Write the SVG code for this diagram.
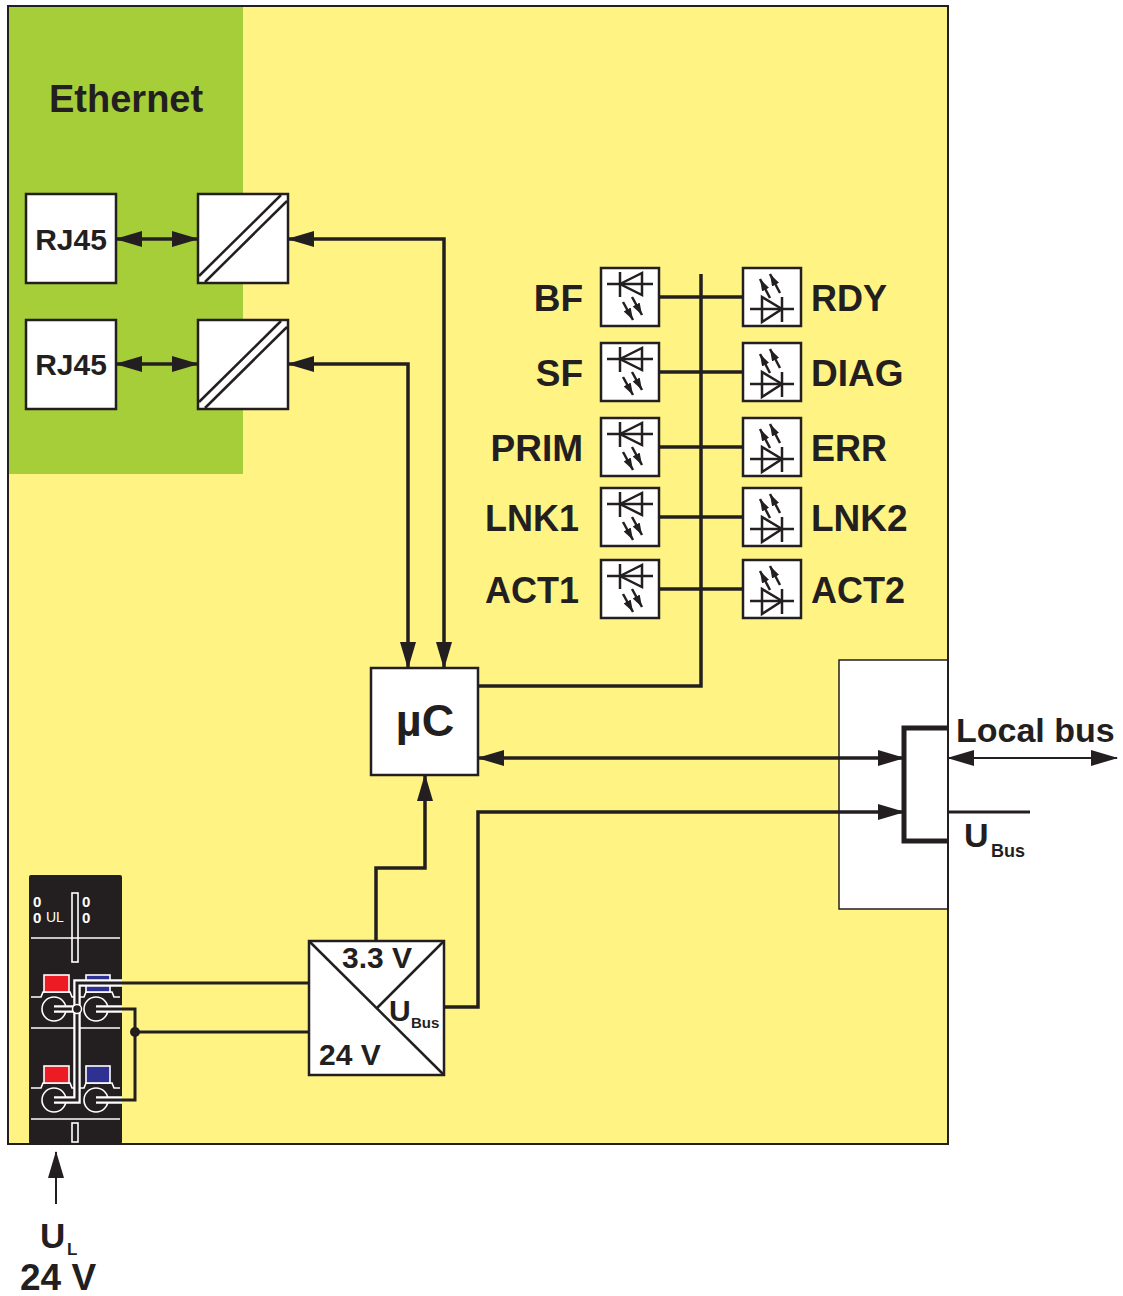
<svg xmlns="http://www.w3.org/2000/svg" width="1123" height="1296" viewBox="0 0 1123 1296">
<style>
.t{font-family:"Liberation Sans",Arial,sans-serif;font-weight:bold;fill:#231f20}
.ln{fill:none;stroke:#231f20;stroke-width:3.5;stroke-linejoin:miter}
.thin{fill:none;stroke:#231f20;stroke-width:2}
.box{fill:#fff;stroke:#231f20;stroke-width:2.5}
.led{fill:none;stroke:#231f20;stroke-width:2.5}
.wcase{fill:none;stroke:#fff;stroke-width:7.5;stroke-linejoin:miter}
.wire{fill:none;stroke:#231f20;stroke-width:3;stroke-linejoin:miter}
.wl{fill:none;stroke:#fff;stroke-width:1.6}
.ws{stroke:#fff;stroke-width:1.6}
.red{fill:#ed1c24}
.blue{fill:#2e3192}
.dk{fill:#231f20}
.tw{font-family:"Liberation Sans",Arial,sans-serif;font-size:14px;fill:#fff}
.tb{font-family:"Liberation Sans",Arial,sans-serif;font-size:15px;font-weight:bold;fill:#fff}
</style>
<defs>
<marker id="ah" viewBox="0 0 27 16" refX="26" refY="8" markerWidth="27" markerHeight="16" markerUnits="userSpaceOnUse" orient="auto-start-reverse"><path d="M0,0 L27,8 L0,16 z" fill="#231f20"/></marker>
<marker id="ahs" viewBox="0 0 12 8" refX="12" refY="4" markerWidth="12" markerHeight="8" markerUnits="userSpaceOnUse" orient="auto"><path d="M0,0 L12,4 L0,8 z" fill="#231f20"/></marker>
<g id="ledL">
<rect class="box" x="0" y="0" width="58" height="58"/>
<line class="led" x1="6" y1="16" x2="52" y2="16"/>
<line class="led" x1="19" y1="4" x2="19" y2="29"/>
<path class="led" d="M19,16 L41,5 L41,27 Z"/>
<line class="led" x1="22" y1="34" x2="32" y2="52" marker-end="url(#ahs)"/>
<line class="led" x1="31" y1="29" x2="41" y2="47" marker-end="url(#ahs)"/>
</g>
<g id="ledR">
<rect class="box" x="0" y="0" width="58" height="58"/>
<line class="led" x1="7" y1="41" x2="51" y2="41"/>
<line class="led" x1="39" y1="29" x2="39" y2="54"/>
<path class="led" d="M39,41 L19,29 L19,54 Z"/>
<line class="led" x1="27" y1="30" x2="17" y2="11" marker-end="url(#ahs)"/>
<line class="led" x1="37" y1="25" x2="27" y2="6" marker-end="url(#ahs)"/>
</g>
</defs>

<g id="background">
<rect x="0" y="0" width="1123" height="1296" fill="#fff"/>
<rect x="8" y="6" width="940" height="1138" fill="#fff383" stroke="#231f20" stroke-width="2"/>
<rect x="9" y="7" width="234" height="467" fill="#a6ce39"/>
<text class="t" x="49" y="112" font-size="38">Ethernet</text>
</g>

<g id="rj45-1">
<rect class="box" x="26" y="194" width="90" height="89"/>
<text class="t" x="71" y="250" font-size="30" text-anchor="middle">RJ45</text>
</g>
<g id="rj45-2">
<rect class="box" x="26" y="320" width="90" height="89"/>
<text class="t" x="71" y="375" font-size="30" text-anchor="middle">RJ45</text>
</g>
<g id="conv-1">
<rect class="box" x="198" y="194" width="90" height="89"/>
<line class="led" x1="199" y1="276" x2="281" y2="195"/>
<line class="led" x1="205" y1="282" x2="287" y2="201"/>
</g>
<g id="conv-2">
<rect class="box" x="198" y="320" width="90" height="89"/>
<line class="led" x1="199" y1="402" x2="281" y2="321"/>
<line class="led" x1="205" y1="408" x2="287" y2="327"/>
</g>

<g id="uc">
<rect class="box" x="371" y="668" width="107" height="107"/>
<text class="t" x="425" y="736" font-size="45" text-anchor="middle">µC</text>
</g>

<g id="leds">
<use href="#ledL" x="601" y="268"/>
<use href="#ledL" x="601" y="343"/>
<use href="#ledL" x="601" y="418"/>
<use href="#ledL" x="601" y="488"/>
<use href="#ledL" x="601" y="560"/>
<use href="#ledR" x="743" y="268"/>
<use href="#ledR" x="743" y="343"/>
<use href="#ledR" x="743" y="418"/>
<use href="#ledR" x="743" y="488"/>
<use href="#ledR" x="743" y="560"/>
<text class="t" x="583" y="311" font-size="37" text-anchor="end">BF</text>
<text class="t" x="583" y="386" font-size="37" text-anchor="end">SF</text>
<text class="t" x="583" y="461" font-size="37" text-anchor="end">PRIM</text>
<text class="t" x="579" y="531" font-size="36" text-anchor="end">LNK1</text>
<text class="t" x="579" y="603" font-size="36" text-anchor="end">ACT1</text>
<text class="t" x="811" y="311" font-size="36">RDY</text>
<text class="t" x="811" y="386" font-size="37">DIAG</text>
<text class="t" x="811" y="461" font-size="36">ERR</text>
<text class="t" x="811" y="531" font-size="37">LNK2</text>
<text class="t" x="811" y="603" font-size="36">ACT2</text>
</g>

<g id="localbus">
<rect x="839" y="660" width="109" height="249" fill="#fff" stroke="#231f20" stroke-width="1.5"/>
<line x1="948" y1="6" x2="948" y2="1144" stroke="#231f20" stroke-width="2"/>
<path d="M948,728 L904,728 L904,841 L948,841" fill="none" stroke="#231f20" stroke-width="5"/>
<line class="thin" x1="948" y1="758" x2="1117" y2="758" marker-start="url(#ah)" marker-end="url(#ah)"/>
<line x1="948" y1="812" x2="1030" y2="812" stroke="#231f20" stroke-width="3"/>
<text class="t" x="956" y="742" font-size="34">Local bus</text>
<text class="t" x="964" y="847" font-size="34">U</text>
<text class="t" x="991" y="857" font-size="18">Bus</text>
</g>

<g id="power">
<rect class="box" x="309" y="941" width="135" height="134"/>
<line class="led" x1="309" y1="941" x2="444" y2="1075"/>
<line class="led" x1="444" y1="941" x2="377" y2="1008"/>
<text class="t" x="342" y="968" font-size="30">3.3 V</text>
<text class="t" x="319" y="1065" font-size="30">24 V</text>
<text class="t" x="389" y="1021" font-size="30">U</text>
<text class="t" x="411" y="1028" font-size="15">Bus</text>
</g>

<g id="terminal">
<rect x="29" y="875" width="93" height="269" rx="2" class="dk"/>
<text class="tb" x="33" y="907">0</text>
<text class="tb" x="33" y="923">0</text>
<text class="tw" x="46" y="922">UL</text>
<text class="tb" x="82" y="907">0</text>
<text class="tb" x="82" y="923">0</text>
<rect x="72" y="893" width="6" height="69" class="dk ws"/>
<line class="wl" x1="31" y1="938" x2="120" y2="938"/>
<line class="wl" x1="31" y1="1028" x2="120" y2="1028"/>
<line class="wl" x1="31" y1="1119" x2="120" y2="1119"/>
<rect x="72" y="1123" width="6" height="19" class="dk ws"/>
<path class="wl" d="M31,997 L41,997 L43,992 L70,992 L72,997 L84,997 L86,992 L112,992 L114,997 L120,997"/>
<path class="wl" d="M31,1088 L41,1088 L43,1083 L70,1083 L72,1088 L84,1088 L86,1083 L112,1083 L114,1088 L120,1088"/>
<rect x="44" y="975" width="25" height="17" class="red ws"/>
<rect x="86" y="975" width="24" height="17" class="blue ws"/>
<rect x="44" y="1066" width="25" height="17" class="red ws"/>
<rect x="86" y="1066" width="24" height="17" class="blue ws"/>
<circle cx="54" cy="1009" r="12" class="dk ws"/>
<circle cx="96" cy="1009" r="12" class="dk ws"/>
<circle cx="54" cy="1100" r="12" class="dk ws"/>
<circle cx="96" cy="1100" r="12" class="dk ws"/>
</g>

<g id="connectors">
<line class="ln" x1="116" y1="239" x2="198" y2="239" marker-start="url(#ah)" marker-end="url(#ah)"/>
<line class="ln" x1="116" y1="364" x2="198" y2="364" marker-start="url(#ah)" marker-end="url(#ah)"/>
<polyline class="ln" points="444,668 444,239 288,239" marker-start="url(#ah)" marker-end="url(#ah)"/>
<polyline class="ln" points="408,668 408,364 288,364" marker-start="url(#ah)" marker-end="url(#ah)"/>
<polyline class="ln" points="478,686 701,686 701,274"/>
<line class="ln" x1="659" y1="297" x2="743" y2="297"/>
<line class="ln" x1="659" y1="372" x2="743" y2="372"/>
<line class="ln" x1="659" y1="447" x2="743" y2="447"/>
<line class="ln" x1="659" y1="517" x2="743" y2="517"/>
<line class="ln" x1="659" y1="589" x2="743" y2="589"/>
<line class="ln" x1="478" y1="758" x2="904" y2="758" marker-start="url(#ah)" marker-end="url(#ah)"/>
<polyline class="ln" points="444,1007 478,1007 478,812 904,812" marker-end="url(#ah)"/>
<polyline class="ln" points="376,941 376,868 425,868 425,775" marker-end="url(#ah)"/>
<polyline class="wcase" points="122,983 77,983 77,1100 54,1100"/>
<polyline class="wcase" points="54,1009 77,1009"/>
<polyline class="wcase" points="96,1009 122,1009"/>
<polyline class="wcase" points="122,1100 96,1100"/>
<polyline class="wire" points="309,983 77,983 77,1100 54,1100"/>
<polyline class="wire" points="54,1009 77,1009"/>
<polyline class="wire" points="96,1009 135,1009 135,1100 96,1100"/>
<line class="wire" x1="135" y1="1032" x2="309" y2="1032"/>
<circle cx="77" cy="1009" r="4.5" fill="#231f20" stroke="#fff" stroke-width="1.5"/>
<circle cx="135" cy="1032" r="5" fill="#231f20"/>
<line class="thin" x1="56" y1="1204" x2="56" y2="1152" marker-end="url(#ah)"/>
</g>

<g id="ul-label">
<text class="t" x="40" y="1248" font-size="35">U</text>
<text class="t" x="67" y="1255" font-size="17">L</text>
<text class="t" x="20" y="1290" font-size="37">24 V</text>
</g>
</svg>
